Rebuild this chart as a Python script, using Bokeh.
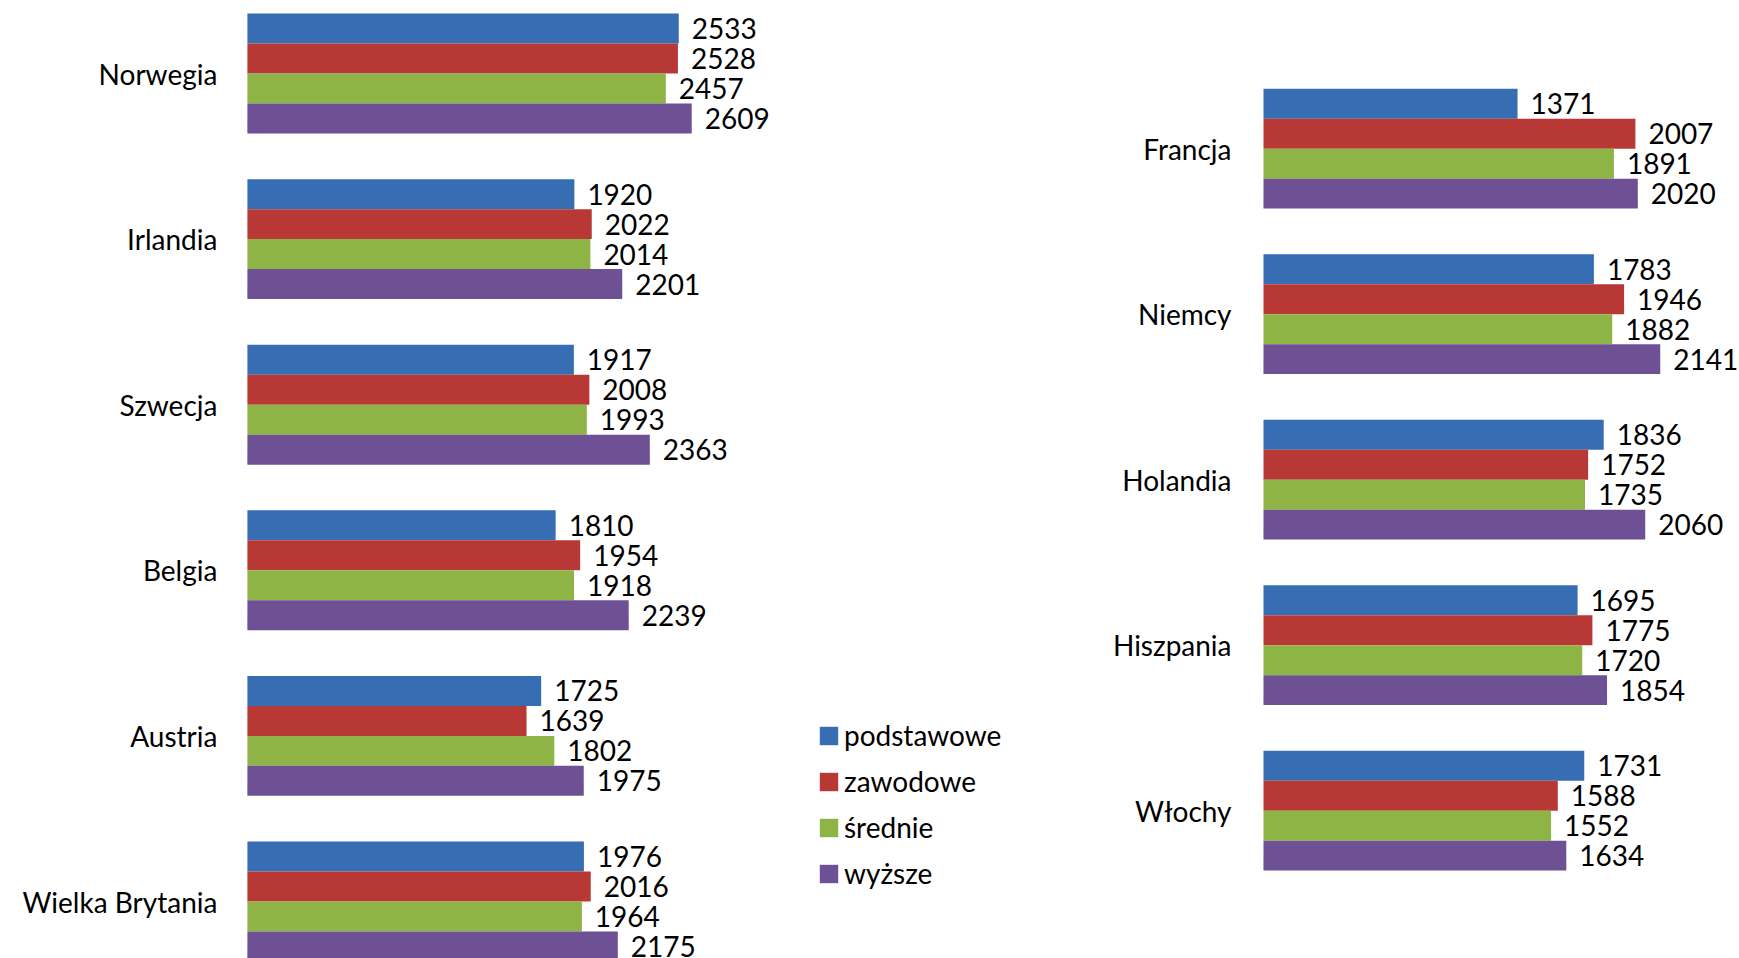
from bokeh.plotting import figure
from bokeh.models import Range1d, ColumnDataSource, Legend, LegendItem
from bokeh.core.properties import value
from bokeh.embed import file_html
from bokeh.resources import INLINE

# ---- data ----
countries_left = ["Norwegia", "Irlandia", "Szwecja", "Belgia", "Austria", "Wielka Brytania"]
podstawowe_left = [2533, 1920, 1917, 1810, 1725, 1976]
zawodowe_left = [2528, 2022, 2008, 1954, 1639, 2016]
srednie_left = [2457, 2014, 1993, 1918, 1802, 1964]
wyzsze_left = [2609, 2201, 2363, 2239, 1975, 2175]

countries_right = ["Francja", "Niemcy", "Holandia", "Hiszpania", "Włochy"]
podstawowe_right = [1371, 1783, 1836, 1695, 1731]
zawodowe_right = [2007, 1946, 1752, 1775, 1588]
srednie_right = [1891, 1882, 1735, 1720, 1552]
wyzsze_right = [2020, 2141, 2060, 1854, 1634]

series_names = ["podstawowe", "zawodowe", "średnie", "wyższe"]
series_colors = ["#366db3", "#b83835", "#8db445", "#6e5195"]

FONT = "Lato"
FS = "28px"

W, H = 1739, 958
sL, sR = 0.1703, 0.1853      # px per unit
bandL, bandR = 165.6, 165.5
bar_h = 0.181

topL = -73.0 / bandL
topR = -148.2 / bandR

p = figure(width=W, height=H, output_backend="svg", toolbar_location=None,
           x_range=Range1d(-246.9 / sL, (W - 246.9) / sL),
           y_range=Range1d(topL + H / bandL, topL),
           min_border=0, x_axis_location=None, y_axis_location=None)
p.extra_x_ranges = {"r": Range1d(-1263.0 / sR, (W - 1263.0) / sR)}
p.extra_y_ranges = {"r": Range1d(topR + H / bandR, topR)}
p.outline_line_color = None
p.grid.visible = False
p.background_fill_color = "white"

left_vals = [podstawowe_left, zawodowe_left, srednie_left, wyzsze_left]
right_vals = [podstawowe_right, zawodowe_right, srednie_right, wyzsze_right]

# soft shadows under each group
for names, vals, kw in ((countries_left, wyzsze_left, {}),
                        (countries_right, wyzsze_right, {"x_range_name": "r", "y_range_name": "r"})):
    src = ColumnDataSource(dict(y=[i + 1.5 * bar_h + 0.05 for i in range(len(names))], v=vals))
    p.hbar(y="y", left=0, right="v", height=0.06, source=src, fill_color="#b0b0b0",
           fill_alpha=0.35, line_color=None, **kw)

legend_items = []
for j, name in enumerate(series_names):
    off = (j - 1.5) * bar_h
    for names, vals, kw, is_left in ((countries_left, left_vals[j], {}, True),
                                     (countries_right, right_vals[j],
                                      {"x_range_name": "r", "y_range_name": "r"}, False)):
        src = ColumnDataSource(dict(y=[i + off for i in range(len(names))], v=vals,
                                    t=[str(x) for x in vals]))
        r = p.hbar(y="y", left=0, right="v", height=bar_h, source=src,
                   fill_color=series_colors[j], line_color=None, **kw)
        p.text(x="v", y="y", text="t", source=src, x_offset=13, text_baseline="middle",
               text_align="left", text_font=value(FONT), text_font_size=FS,
               text_color="black", **kw)
        if is_left:
            legend_items.append(LegendItem(label=name, renderers=[r]))

# category labels
p.text(x=[0] * len(countries_left), y=list(range(len(countries_left))), text=countries_left,
       x_offset=-30, text_align="right", text_baseline="middle",
       text_font=value(FONT), text_font_size=FS, text_color="black")
p.text(x=[0] * len(countries_right), y=list(range(len(countries_right))), text=countries_right,
       x_offset=-32, text_align="right", text_baseline="middle",
       text_font=value(FONT), text_font_size=FS, text_color="black",
       x_range_name="r", y_range_name="r")

legend = Legend(items=legend_items, location=(817, 68), orientation="vertical",
                glyph_width=23, glyph_height=23, label_standoff=4, spacing=12,
                padding=0, margin=0, border_line_color=None, background_fill_alpha=0,
                label_text_font=FONT, label_text_font_size=FS, label_height=19,
                label_text_color="black")
p.add_layout(legend)

open("out.html", "w").write(file_html(p, INLINE))
